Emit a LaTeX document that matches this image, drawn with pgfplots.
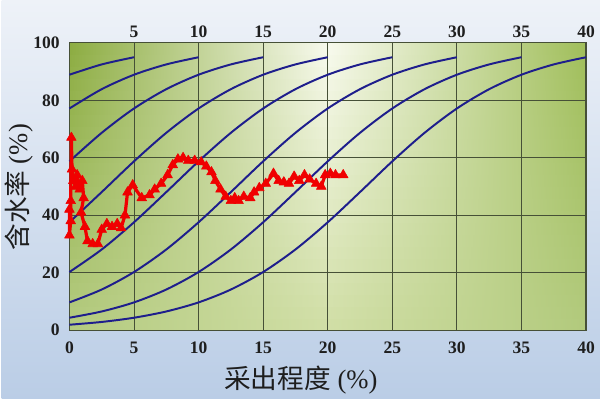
\documentclass[border=0pt]{standalone}
\usepackage{fontspec}
\setmainfont{Liberation Serif}
\newfontfamily\cjk{Noto Sans CJK SC}
\usepackage{pgfplots}
\pgfplotsset{compat=1.18}

\definecolor{curveblue}{RGB}{30,30,140}
\definecolor{datared}{RGB}{240,0,0}
\definecolor{gridc}{RGB}{70,80,55}
\definecolor{bgtop}{RGB}{238,242,248}
\definecolor{bgbot}{RGB}{186,205,230}
\definecolor{txt}{RGB}{30,30,30}
% plot area colours: top/bottom x left/middle/right
\definecolor{gTL}{RGB}{140,172,65}
\definecolor{gTM}{RGB}{248,250,238}
\definecolor{gTR}{RGB}{160,190,90}
\definecolor{gBL}{RGB}{180,203,128}
\definecolor{gBM}{RGB}{208,222,165}
\definecolor{gBR}{RGB}{178,202,125}

\pgfplotsset{
  ticks/.style={
    tick label style={font=\fontsize{12.5}{14}\selectfont\bfseries, text=txt},
    /pgf/number format/assume math mode=true,
  },
}

\begin{document}
\begin{tikzpicture}
\shade[top color=bgtop, bottom color=bgbot] (0,0) rectangle (15,10);

% green plot background, built from thin horizontal bands
\foreach \i in {0,...,23} {
  \pgfmathsetmacro\tp{100*(\i+0.5)/24}
  \pgfmathsetmacro\ya{1.725+\i*0.3}
  \pgfmathsetmacro\yb{min(\ya+0.31,8.925)}
  \colorlet{bandL}{gTL!\tp!gBL}
  \colorlet{bandM}{gTM!\tp!gBM}
  \colorlet{bandR}{gTR!\tp!gBR}
  \shade[left color=bandL, right color=bandR, middle color=bandM]
    (1.7,\ya) rectangle (14.65,\yb);
}

\begin{axis}[
    at={(1.7cm,1.725cm)}, anchor=south west,
    scale only axis, width=12.95cm, height=7.2cm,
    xmin=0, xmax=40, ymin=0, ymax=100,
    xtick={0,5,...,40}, ytick={0,20,...,100},
    grid=major,
    grid style={gridc, line width=0.7pt},
    axis line style={gridc, line width=0.8pt},
    major tick length=0pt,
    ticks,
    xticklabel style={yshift=-0.18cm},
    yticklabel style={xshift=-0.12cm},
    label style={font=\fontsize{19}{21}\selectfont, text=txt},
    xlabel={{\cjk 采出程度} (\%)},
    ylabel={{\cjk 含水率} (\%)},
    xlabel style={at={(axis description cs:0.448,-0.174)}, anchor=center},
    ylabel style={at={(axis description cs:-0.098,0.497)}, anchor=center},
    clip=false,
]

% type curves, each reaching 95 at its recovery value
\addplot[curveblue, line width=1.4pt, smooth, no markers] coordinates {
  (0,88.91)(2.5,92.50)(5,95)};
\addplot[curveblue, line width=1.4pt, smooth, no markers] coordinates {
  (0,77.16)(2.5,83.88)(5,88.91)(7.5,92.50)(10,95)};
\addplot[curveblue, line width=1.4pt, smooth, no markers] coordinates {
  (0,58.76)(2.5,68.69)(5,77.16)(7.5,83.88)(10,88.91)(12.5,92.50)(15,95)};
\addplot[curveblue, line width=1.4pt, smooth, no markers] coordinates {
  (0,37.54)(2.5,48.06)(5,58.76)(7.5,68.69)(10,77.16)(12.5,83.88)(15,88.91)
  (17.5,92.50)(20,95)};
\addplot[curveblue, line width=1.4pt, smooth, no markers] coordinates {
  (0,20.22)(2.5,28.07)(5,37.54)(7.5,48.06)(10,58.76)(12.5,68.69)(15,77.16)
  (17.5,83.88)(20,88.91)(22.5,92.50)(25,95)};
\addplot[curveblue, line width=1.4pt, smooth, no markers] coordinates {
  (0,9.65)(2.5,14.13)(5,20.22)(7.5,28.07)(10,37.54)(12.5,48.06)(15,58.76)
  (17.5,68.69)(20,77.16)(22.5,83.88)(25,88.91)(27.5,92.50)(30,95)};
\addplot[curveblue, line width=1.4pt, smooth, no markers] coordinates {
  (0,4.31)(2.5,6.49)(5,9.65)(7.5,14.13)(10,20.22)(12.5,28.07)(15,37.54)
  (17.5,48.06)(20,58.76)(22.5,68.69)(25,77.16)(27.5,83.88)(30,88.91)
  (32.5,92.50)(35,95)};
\addplot[curveblue, line width=1.4pt, smooth, no markers] coordinates {
  (0,1.87)(2.5,2.84)(5,4.31)(7.5,6.49)(10,9.65)(12.5,14.13)(15,20.22)
  (17.5,28.07)(20,37.54)(22.5,48.06)(25,58.76)(27.5,68.69)(30,77.16)
  (32.5,83.88)(35,88.91)(37.5,92.50)(40,95)};

% actual data
\addplot[datared, line width=2.3pt, line join=round, mark=triangle*, mark size=4pt,
    mark options={fill=datared, draw=datared, line width=0.4pt}] coordinates {
  (0,42)(0,33)(0.1,38)(0.1,45)(0.15,67)(0.2,56)(0.3,52)(0.5,50)(0.6,54)
  (0.8,49)(1.0,52)(1.1,46)(0.9,41)(1.2,36)(1.4,31)(1.8,30)(2.2,30)(2.5,35)
  (2.9,37)(3.3,36)(3.7,37)(4.0,35.5)(4.3,40)(4.5,48)(4.9,50.5)(5.6,46)
  (6.2,47)(6.6,49)(7.1,51)(7.6,54)(8.0,57.5)(8.4,59.5)(8.8,60)(9.2,59)
  (9.7,59)(10.2,58.5)(10.6,57)(11.0,55)(11.3,52)(11.7,49)(12.1,46.5)
  (12.5,45)(12.8,46)(13.1,45)(13.5,46.5)(14.0,46)(14.3,48)(14.7,49.5)
  (15.2,51)(15.8,54.5)(16.2,52)(16.6,51.5)(17.0,51)(17.4,53.5)(17.8,52)
  (18.2,54)(18.6,52.5)(19.1,51)(19.5,50)(19.8,54)(20.2,54.5)(20.6,54)
  (21.2,54)};
\end{axis}

% top scale: recovery value of each type curve
\begin{axis}[
    at={(1.7cm,1.725cm)}, anchor=south west,
    scale only axis, width=12.95cm, height=7.2cm,
    xmin=0, xmax=40, ymin=0, ymax=100,
    axis line style={draw=none},
    xtick={5,10,...,40}, ytick=\empty,
    xticklabel pos=right,
    major tick length=0pt,
    ticks,
]
\end{axis}
\end{tikzpicture}
\end{document}
